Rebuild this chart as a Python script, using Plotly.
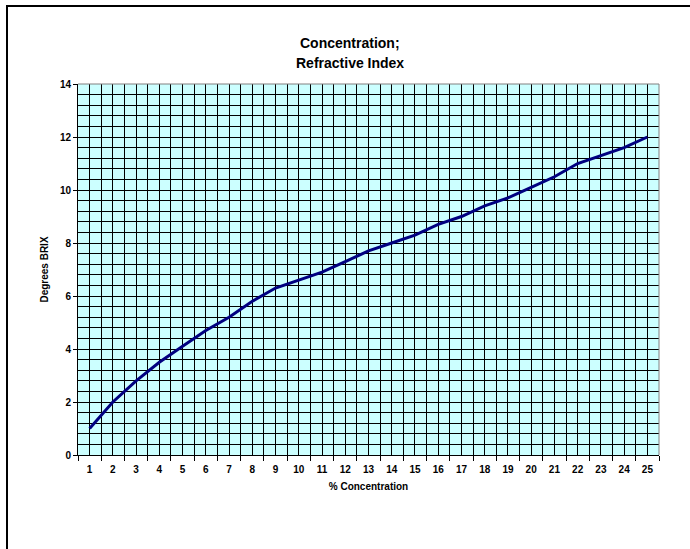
import plotly.graph_objects as go

concentration = list(range(1, 26))
brix = [1.0, 2.0, 2.8, 3.5, 4.1, 4.7, 5.2, 5.8, 6.3, 6.6, 6.9, 7.3, 7.7, 8.0, 8.3,
        8.7, 9.0, 9.4, 9.7, 10.1, 10.5, 11.0, 11.3, 11.6, 12.0]
y_ticks = [0, 2, 4, 6, 8, 10, 12, 14]
title_lines = ["Concentration;", "Refractive Index"]

W, H = 690, 549
L, R, T, B = 78, 659, 84, 455

fig = go.Figure()
fig.add_trace(go.Scatter(x=concentration, y=brix, mode="lines",
                         line=dict(color="#000080", width=3), showlegend=False))

font = dict(family="Liberation Sans, Arial", size=10, color="black", weight="bold")

fig.update_layout(
    width=W, height=H,
    margin=dict(l=L, r=W - R, t=T, b=H - B),
    paper_bgcolor="white", plot_bgcolor="#CCFFFF",
    font=font,
    xaxis=dict(range=[0.5, 25.5], tickvals=concentration, ticktext=[str(c) for c in concentration],
               ticks="outside", ticklen=5, tickcolor="rgba(0,0,0,0)",
               showgrid=True, gridcolor="#000000", gridwidth=1,
               showline=True, linecolor="black", linewidth=1, zeroline=False,
               tickfont=font,
               minor=dict(tick0=0.5, dtick=1, ticks="outside", ticklen=5, tickcolor="black",
                          showgrid=True, gridcolor="#000000", gridwidth=1),
               title=dict(text="% Concentration", font=font, standoff=8)),
    yaxis=dict(range=[0, 14], tickvals=y_ticks,
               ticks="outside", ticklen=4, tickcolor="black",
               showgrid=True, gridcolor="#000000", gridwidth=1,
               showline=True, linecolor="black", linewidth=1, zeroline=False,
               tickfont=font,
               minor=dict(tick0=0, dtick=0.4, ticks="", showgrid=True,
                          gridcolor="#000000", gridwidth=1),
               title=dict(text="Degrees BRIX", font=font, standoff=9)),
)


def px_x(p):
    return (p - L) / (R - L)


def px_y(p):
    return (B - p) / (B - T)


for line_text, ypx in zip(title_lines, [43, 63]):
    fig.add_annotation(text=line_text, xref="paper", yref="paper",
                       x=px_x(350), y=px_y(ypx), xanchor="center", yanchor="middle",
                       showarrow=False, font=dict(family="Liberation Sans, Arial", size=14,
                                                  color="black", weight="bold"))

# plot area top/right border
fig.add_shape(type="line", xref="paper", yref="paper", x0=0, x1=1, y0=1, y1=1,
              line=dict(color="#808080", width=1))
fig.add_shape(type="line", xref="paper", yref="paper", x0=1, x1=1, y0=0, y1=1,
              line=dict(color="#808080", width=1))

# chart outer border (left and top visible)
fig.add_shape(type="line", xref="paper", yref="paper", x0=px_x(7), x1=px_x(7),
              y0=px_y(5), y1=px_y(549), line=dict(color="black", width=2))
fig.add_shape(type="line", xref="paper", yref="paper", x0=px_x(6), x1=px_x(690),
              y0=px_y(6), y1=px_y(6), line=dict(color="black", width=2))

fig.write_html("out.html", config={"displayModeBar": False},
               post_script="document.body.style.margin='0px';")
